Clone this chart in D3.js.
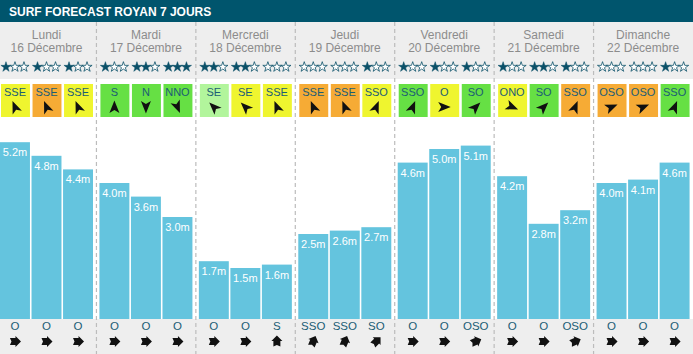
<!DOCTYPE html>
<html>
<head>
<meta charset="utf-8">
<script src="https://cdn.jsdelivr.net/npm/d3@7"></script>
<style>
  body { margin: 0; background: #fff; }
  svg { display: block; font-family: "Liberation Sans", Arial, sans-serif; }
</style>
</head>
<body>
<svg id="chart"></svg>
<script>
// days and dates
const days = ["Lundi", "Mardi", "Mercredi", "Jeudi", "Vendredi", "Samedi", "Dimanche"];
const dates = ["16 Décembre", "17 Décembre", "18 Décembre", "19 Décembre", "20 Décembre", "21 Décembre", "22 Décembre"];

// 3 slots per day
const stars = [1, 1, 1,  1, 2, 3,  2, 2, 0,  0, 0, 1,  1, 1, 1,  1, 2, 1,  0, 0, 1];
const windDir = ["SSE", "SSE", "SSE",  "S", "N", "NNO",  "SE", "SE", "SSE",  "SSE", "SSE", "SSO",
                 "SSO", "O", "SO",  "ONO", "SO", "SSO",  "OSO", "OSO", "SSO"];
const windQuality = ["cross", "on", "cross",  "off", "off", "off",  "light", "cross", "cross",  "on", "on", "cross",
                     "off", "cross", "off",  "cross", "off", "on",  "on", "on", "off"];
const waveHeight = [5.2, 4.8, 4.4,  4.0, 3.6, 3.0,  1.7, 1.5, 1.6,  2.5, 2.6, 2.7,
                    4.6, 5.0, 5.1,  4.2, 2.8, 3.2,  4.0, 4.1, 4.6];
const swellDir = ["O", "O", "O",  "O", "O", "O",  "O", "O", "S",  "SSO", "SSO", "SO",
                  "O", "O", "OSO",  "O", "O", "OSO",  "O", "O", "O"];

const compass = ["N", "NNE", "NE", "ENE", "E", "ESE", "SE", "SSE", "S", "SSO", "SO", "OSO", "O", "ONO", "NO", "NNO"];
function bearing(d) { return compass.indexOf(d) * 22.5; }

const width = 693;
const height = 354;
const teal = "#1b5d75";

const svg = d3.select("#chart")
    .attr("width", width)
    .attr("height", height);

// scales
const dayX = d3.scaleBand().domain(days).range([0, 696]);
const slotX = d3.scaleBand().domain([0, 1, 2]).range([0, 93]).paddingInner(0.05);
const y = d3.scaleLinear().domain([0, 6]).range([319, 115]);
const windColor = d3.scaleOrdinal()
    .domain(["off", "light", "cross", "on"])
    .range(["#66e044", "#b2f59c", "#eff52f", "#f6ab35"]);

const slots = d3.range(21).map(i => ({
    i: i,
    day: days[Math.floor(i / 3)],
    k: i % 3
}));
const sx = s => dayX(s.day) + slotX(s.k);
const cx = s => sx(s) + slotX.bandwidth() / 2;

// backgrounds
svg.append("rect").attr("x", 0).attr("y", 22).attr("width", width).attr("height", 57).attr("fill", "#eeeeee");
svg.append("rect").attr("x", 0).attr("y", 319).attr("width", width).attr("height", height - 319).attr("fill", "#eeeeee");
svg.append("rect").attr("x", 0).attr("y", 0).attr("width", width).attr("height", 22).attr("fill", "#00556d");
svg.append("text")
    .attr("x", 9).attr("y", 15.5)
    .attr("fill", "#fff")
    .style("font-size", "12px")
    .style("font-weight", "bold")
    .text("SURF FORECAST ROYAN 7 JOURS");

// day separators
svg.append("g")
    .selectAll("line")
    .data(days.slice(1))
    .enter().append("line")
    .attr("x1", d => dayX(d) - 3).attr("x2", d => dayX(d) - 3)
    .attr("y1", 22).attr("y2", height)
    .attr("stroke", "#bcbcbc")
    .attr("stroke-width", 1.2)
    .attr("stroke-dasharray", "4,3");

// day names and dates
const dayG = svg.append("g").selectAll("g")
    .data(days)
    .enter().append("g");
dayG.append("text")
    .attr("x", d => dayX(d) + 46.5).attr("y", 39)
    .attr("text-anchor", "middle")
    .attr("fill", "#8c8c8c")
    .style("font-size", "12px")
    .text(d => d);
dayG.append("text")
    .attr("x", d => dayX(d) + 46.5).attr("y", 52)
    .attr("text-anchor", "middle")
    .attr("fill", "#8c8c8c")
    .style("font-size", "12px")
    .text((d, i) => dates[i]);

// stars
const starSym = d3.symbol().type(d3.symbolStar).size(32);
const starG = svg.append("g");
slots.forEach(s => {
    for (let j = 0; j < 3; j++) {
        const filled = j < stars[s.i];
        starG.append("path")
            .attr("d", starSym)
            .attr("transform", `translate(${cx(s) + (j - 1) * 9},${67})`)
            .attr("fill", filled ? "#0b5068" : "#fff")
            .attr("stroke", "#0b5068")
            .attr("stroke-width", filled ? 0.5 : 0.8);
    }
});

// wind boxes
const windArrow = "M0,-6.5 L5,6 L0,3 L-5,6 Z";
const windG = svg.append("g").selectAll("g")
    .data(slots)
    .enter().append("g");
windG.append("rect")
    .attr("x", d => sx(d) + 1).attr("y", 84)
    .attr("width", slotX.bandwidth() - 1).attr("height", 33)
    .attr("fill", d => windColor(windQuality[d.i]));
windG.append("text")
    .attr("x", cx).attr("y", 96)
    .attr("text-anchor", "middle")
    .attr("fill", teal)
    .style("font-size", "11px")
    .text(d => windDir[d.i]);
windG.append("path")
    .attr("d", windArrow)
    .attr("transform", d => `translate(${cx(d)},107) rotate(${bearing(windDir[d.i]) + 180})`)
    .attr("fill", "#111");

// wave height bars
const barG = svg.append("g").selectAll("g")
    .data(slots)
    .enter().append("g");
barG.append("rect")
    .attr("x", sx)
    .attr("y", d => y(waveHeight[d.i]))
    .attr("width", slotX.bandwidth())
    .attr("height", d => y(0) - y(waveHeight[d.i]))
    .attr("fill", "#64c4de");
barG.append("text")
    .attr("x", cx)
    .attr("y", d => y(waveHeight[d.i]) + 14)
    .attr("text-anchor", "middle")
    .attr("fill", "#fff")
    .style("font-size", "11px")
    .text(d => waveHeight[d.i].toFixed(1) + "m");

// swell direction
const swellArrow = "M0,-6 L5.5,-0.5 L3.5,-0.5 L3.5,5 L0,3.5 L-3.5,5 L-3.5,-0.5 L-5.5,-0.5 Z";
const swellG = svg.append("g").selectAll("g")
    .data(slots)
    .enter().append("g");
swellG.append("text")
    .attr("x", cx).attr("y", 330)
    .attr("text-anchor", "middle")
    .attr("fill", teal)
    .style("font-size", "11.5px")
    .text(d => swellDir[d.i]);
swellG.append("path")
    .attr("d", swellArrow)
    .attr("transform", d => `translate(${cx(d)},341.5) rotate(${bearing(swellDir[d.i]) + 180})`)
    .attr("fill", "#111");
</script>
</body>
</html>
